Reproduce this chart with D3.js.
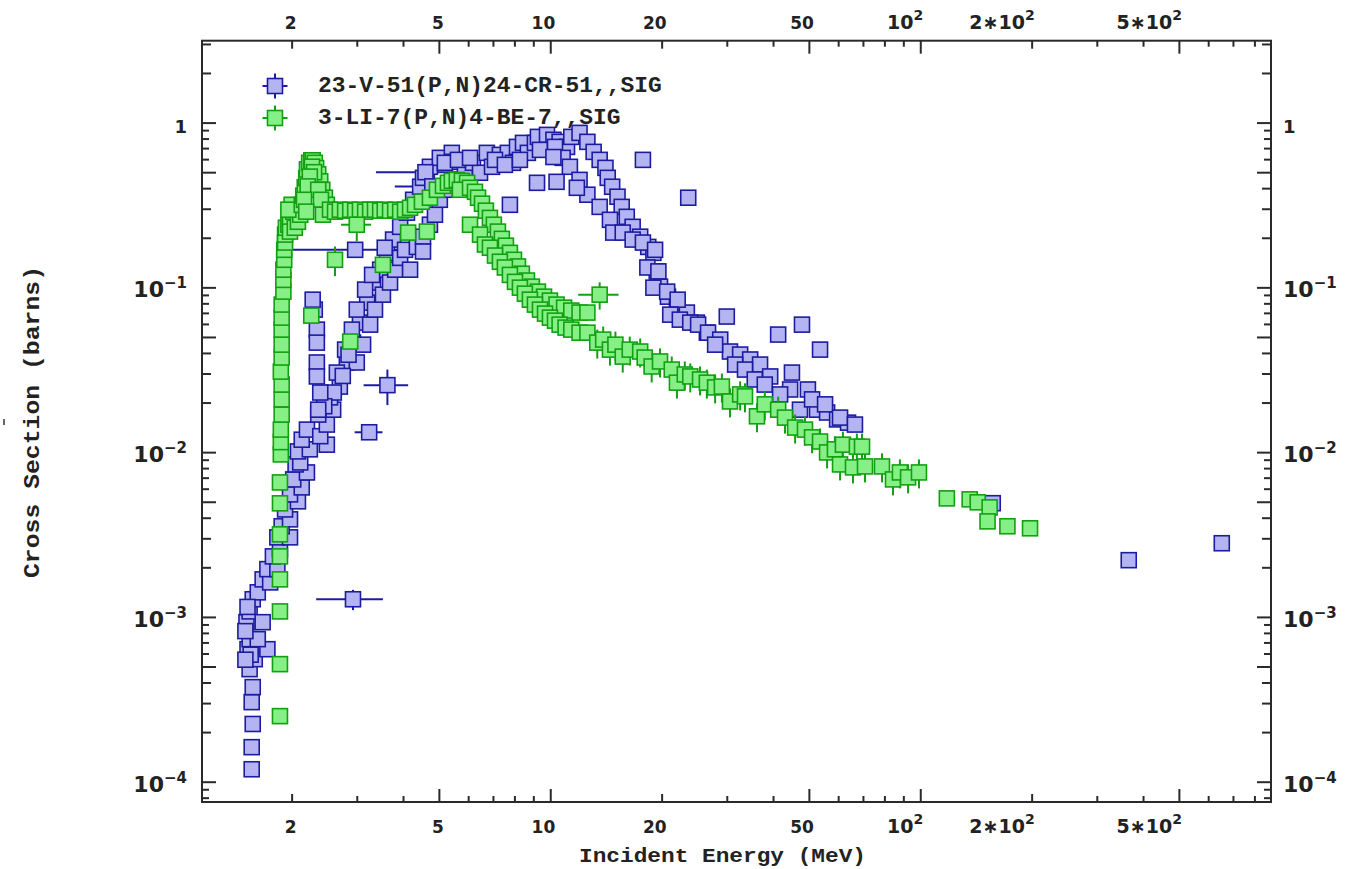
<!DOCTYPE html>
<html>
<head>
<meta charset="utf-8">
<script src="https://cdn.jsdelivr.net/npm/d3@7"></script>
<style>
body { margin:0; background:#fff; }
svg { display:block; }
.lbl { font-family:"DejaVu Sans", sans-serif; font-weight:bold; fill:#222; }
.ttl { font-family:"Liberation Mono", monospace; font-weight:bold; fill:#222; }
</style>
</head>
<body>
<svg id="chart" width="1365" height="869"></svg>
<script>
// ---- data: [energy MeV, sigma barns] ; err entries: [E, sigma, dE, dSigma] ----
var vThresh = [[1.56,1.19e-4],[1.56,1.62e-4],[1.57,2.24e-4],[1.56,3.04e-4],[1.57,3.75e-4],[1.54,4.82e-4],
  [1.59,5.54e-4],[1.52,6.37e-4],[1.54,7.33e-4],[1.51,9.29e-4],[1.54,1.08e-3],[1.57,1.28e-3],[1.62,1.41e-3],
  [1.67,9.29e-4],[1.72,6.37e-4],[1.62,7.33e-4],[1.50,8.2e-4],[1.52,1.15e-3],[1.55,5.9e-4],[1.50,5.5e-4]]
var vRise = [[1.67,1.69e-3],[1.75,1.62e-3],[1.72,1.95e-3],[1.83,1.95e-3],[1.78,2.33e-3],[1.86,2.57e-3],
  [1.83,3.04e-3],[1.98,3.04e-3],[1.88,3.55e-3],[1.98,3.91e-3],[1.92,4.49e-3],[2.08,5.03e-3],[1.98,5.54e-3],
  [2.13,6.11e-3],[2.02,6.83e-3],[2.20,7.53e-3],[2.05,8.42e-3],[2.11,8.66e-3],[2.08,1.01e-2],[2.24,1.04e-2],
  [2.13,1.19e-2],[2.49,1.11e-2],[2.20,1.37e-2],[2.39,1.25e-2],[2.49,1.47e-2],[2.59,1.81e-2],[2.36,1.69e-2],
  [2.70,2.50e-2],[2.54,2.15e-2],[2.82,3.50e-2],[2.65,3.04e-2],[2.93,4.62e-2],[2.79,4.19e-2],[3.06,6.11e-2],
  [2.91,5.54e-2],[3.20,8.08e-2],[3.00,7.33e-2],[3.32,0.107],[3.16,9.69e-2],[3.47,0.128],[3.30,0.119],
  [3.62,0.162],[3.76,0.195],[3.57,0.174],[3.93,0.233],[4.10,0.284],[4.26,0.340],[4.45,0.408],[4.64,0.469]]
var vRise2 = [[3.00,3.50e-2],[3.12,4.49e-2],[3.26,5.94e-2],[3.36,7.33e-2],[3.53,9.03e-2],[3.69,0.107],
  [3.81,0.128],[3.93,0.151],[4.05,0.169],[4.18,0.128],[4.36,0.176],[4.53,0.203],[4.73,0.240],[4.88,0.276],
  [4.53,0.165],[5.03,0.340],[5.19,0.391],[2.60,2.3e-2],[2.75,2.9e-2],[2.85,3.9e-2],[2.45,1.9e-2]]
var vColumn = [[2.31,7.33e-2],[2.34,5.54e-2],[2.34,4.62e-2],[2.34,3.50e-2],[2.34,2.88e-2],[2.39,2.30e-2],
  [2.36,1.81e-2],[2.28,8.42e-2]]
var vHump = [[4.53,0.462],[4.73,0.539],[5.03,0.611],[5.42,0.655],[5.46,0.578],[5.88,0.517],[6.18,0.570],
  [6.46,0.496],[6.74,0.655],[6.96,0.539],[7.31,0.637],[7.68,0.655],[7.93,0.570],[8.13,0.712],[8.44,0.753],
  [8.70,0.655],[9.09,0.753],[9.26,0.819],[9.80,0.842],[10.2,0.786],[10.6,0.764],[11.1,0.712],[11.4,0.819],
  [12.0,0.866],[12.6,0.764],[13.1,0.664],[13.6,0.594],[14.1,0.531],[14.3,0.462],[14.7,0.408],[15.2,0.355],
  [15.6,0.308],[16.1,0.268],[16.7,0.233],[17.5,0.203],[18.4,0.176],[19.0,0.162],[19.4,0.125],[19.8,0.101],
  [20.8,0.0878],[22.0,0.0808],[23.4,0.0703],[24.9,0.0611],[26.5,0.0531],[5.19,0.570],[5.63,0.594],
  [6.07,0.611],[7.09,0.594],[7.54,0.554],[8.28,0.594],[9.38,0.683],[10.3,0.712],[10.8,0.611]]
var vTail = [[10.2,0.618],[11.3,0.539],[12.0,0.449],[12.6,0.365],[13.6,0.308],[14.5,0.257],[14.8,0.215],
  [15.7,0.215],[16.7,0.195],[17.8,0.187],[19.2,0.169],[18.3,0.132],[19.6,0.125],[19.0,0.0996],[20.7,0.0942],
  [22.1,0.0842],[21.1,0.0683],[22.4,0.0637],[23.9,0.0611],[25.1,0.0594],[26.7,0.0531],[28.8,0.0482],
  [30.6,0.0408],[32.6,0.0391],[34.7,0.0365],[36.9,0.0340],[39.3,0.0288],[45.0,0.0304],[44.5,0.0240],
  [49.7,0.0240],[47.3,0.0181],[52.6,0.0181],[56.0,0.0174],[59.6,0.0158],[63.8,0.0151],[27.9,0.0449],
  [31.6,0.0340],[33.6,0.0317],[35.7,0.0276],[38.0,0.0257],[41.8,0.0224],[51.0,0.0209],[55.3,0.0195],
  [60.7,0.0162],[66.6,0.0147]]
var vScatter = [[17.8,0.594],[23.6,0.350],[9.21,0.431],[10.4,0.437],[11.8,0.402],[30.0,0.0665],[41.3,0.0517],
  [47.9,0.0594],[53.6,0.0419],[157,4.9e-3],[366,2.21e-3],[653,2.80e-3]]
var vErr = [[3.63,0.0255,0.5,0.0062],[3.24,0.0132,0.28,0],[2.93,0.00128,0.6,0.00018],[2.97,0.169,1.01,0],
  [4.60,0.50,1.22,0],[4.80,0.41,1.0,0],[7.78,0.317,0.35,0]]

var liThresh = [[1.86,2.50e-4],[1.86,5.17e-4],[1.86,1.08e-3],[1.86,1.69e-3],[1.86,2.33e-3],[1.86,3.17e-3],
  [1.86,4.89e-3],[1.86,6.55e-3],[1.87,9.69e-3],[1.87,1.15e-2],[1.87,1.37e-2],[1.88,1.69e-2],[1.88,2.09e-2],
  [1.88,2.57e-2],[1.87,3.08e-2],[1.88,3.75e-2],[1.88,4.49e-2],[1.88,5.54e-2],[1.88,6.55e-2],[1.88,7.86e-2],
  [1.90,9.42e-2],[1.90,0.111],[1.90,0.128],[1.91,0.147],[1.91,0.169],[1.92,0.187],[1.92,0.209],[1.93,0.230]]
var liPeak = [[1.96,0.240],[1.98,0.264],[2.02,0.288],[2.05,0.304],[1.98,0.218],[2.04,0.230],[2.08,0.250],
  [2.11,0.276],[2.00,0.317],[1.96,0.296],[2.13,0.317],[2.15,0.360],[2.17,0.405],[2.19,0.460],[2.20,0.520],
  [2.23,0.570],[2.26,0.590],[2.28,0.590],[2.31,0.570],[2.33,0.530],[2.36,0.485],[2.39,0.440],[2.42,0.391],
  [2.46,0.350],[2.49,0.317],[2.27,0.540],[2.30,0.500],[2.24,0.470],[2.21,0.410],[2.36,0.391],[2.40,0.340],
  [2.16,0.340],[2.19,0.288],[2.43,0.276]]
var liPlateau = [[2.54,0.296],[2.62,0.288],[2.70,0.296],[2.79,0.292],[2.88,0.296],[2.97,0.292],[3.06,0.296],
  [3.16,0.288],[3.26,0.296],[3.36,0.296],[3.47,0.292],[3.57,0.296],[3.69,0.292],[3.81,0.296],[3.93,0.288],
  [4.05,0.296],[4.18,0.304],[4.31,0.317]]
var liFall = [[4.50,0.331],[4.73,0.350],[4.94,0.391],[5.13,0.413],[5.29,0.431],[5.42,0.443],[5.59,0.449],
  [5.77,0.443],[5.96,0.431],[5.70,0.391],[6.07,0.402],[6.26,0.380],[6.38,0.350],[6.54,0.322],[6.70,0.292],
  [6.87,0.264],[7.04,0.240],[7.22,0.218],[7.40,0.197],[7.59,0.179],[7.78,0.162],[7.98,0.147],[8.18,0.134],
  [8.38,0.121],[8.65,0.110],[8.92,0.101],[9.26,0.0942],[9.62,0.0878],[9.98,0.0831],[10.4,0.0786],
  [10.9,0.0753],[11.4,0.0723],[12.0,0.0703],[12.6,0.0703],
  [6.07,0.240],[6.46,0.209],[6.66,0.182],[6.87,0.174],[7.09,0.156],[7.31,0.143],[7.54,0.132],[7.78,0.119],
  [8.03,0.108],[8.28,0.0996],[8.54,0.0916],[8.81,0.0842],[9.09,0.0786],[9.38,0.0733],[9.68,0.0693],
  [9.98,0.0655],[10.3,0.0628],[10.6,0.0594],[11.0,0.0570],[11.4,0.0554],[12.0,0.0531],[12.6,0.0531]]
var liTail = [[13.4,0.0462],[13.9,0.0482],[14.5,0.0419],[15.0,0.0449],[15.7,0.0380],[16.4,0.0419],
  [17.5,0.0408],[18.0,0.0375],[18.8,0.0331],[19.8,0.0355],[21.3,0.0317],[22.0,0.0264],[23.1,0.0296],
  [23.9,0.0288],[25.4,0.0276],[26.5,0.0264],[27.9,0.0247],[29.1,0.0250],[30.6,0.0203],[32.6,0.0224],
  [33.6,0.0218],[36.2,0.0165],[38.0,0.0195],[41.3,0.0181],[43.1,0.0162],[45.9,0.0141],[48.8,0.0137],
  [51.0,0.0123],[53.6,0.0116],[56.0,0.00996],[58.8,0.0104],[61.8,0.0111],[67.4,0.0108],[69.6,0.0108],
  [60.7,0.00842],[65.8,0.00808],[70.9,0.00819],[78.8,0.00819],[84.4,0.00683],[88.1,0.00753],[92.7,0.00703],
  [99.2,0.00753]]
var liTailErr = 0.2   // relative sigma error seen on the tail points
var liFar = [[118,0.00524],[136,0.00517],[143,0.00496],[154,0.00462],[152,0.00380],[172,0.00355],[198,0.00345]]
var liScatter = [[2.26,0.0674],[2.88,0.0469],[3.53,0.137],[4.13,0.215],[4.64,0.218]]
var liErr = [[3.00,0.240,0.28,0.05],[2.62,0.147,0.05,0.03],[13.6,0.0903,1.7,0.017]]

var legendNames = ["23-V-51(P,N)24-CR-51,,SIG", "3-LI-7(P,N)4-BE-7,,SIG"]
var xTickVals = [2,5,10,20,50,100,200,500]
var xTickText = ["2","5","10","20","50","10^2","2\u221710^2","5\u221710^2"]
var yTickVals = [1,0.1,0.01,0.001,0.0001]
var yTickText = ["1","10^\u22121","10^\u22122","10^\u22123","10^\u22124"]

// ---- layout ----
var plotL = 202, plotR = 1271, plotT = 40.7, plotB = 802
var xScale = d3.scaleLog().domain([1.145, 887]).range([plotL, plotR])
var yScale = d3.scaleLog().domain([7.53e-5, 3.14]).range([plotB, plotT])
var svg = d3.select("#chart")

// tick values by size
var xLong = [], xMid = [], xShort = [], yLong = [], yMid = [], yShort = []
for (var n = 0; n <= 2; n++) for (var m = 1; m <= 9; m++) {
  var v = m * Math.pow(10, n)
  if (v < 1.145 || v > 887) continue
  if (m == 1 || m == 5) xLong.push(v); else if (m == 2) xMid.push(v); else xShort.push(v)
}
for (var n = -5; n <= 0; n++) for (var m = 1; m <= 9; m++) {
  var v = m * Math.pow(10, n)
  if (v < 7.53e-5 || v > 3.14) continue
  if (m == 1 || m == 5) yLong.push(v); else if (m <= 4) yMid.push(v); else yShort.push(v)
}

function tickGroup(axis, tr) {
  var g = svg.append("g").attr("transform", tr).attr("color", "#2a2a2a").call(axis)
  g.select(".domain").remove()
  g.selectAll("line").attr("stroke-width", 2)
}
;[[xLong,13],[xMid,8],[xShort,6]].forEach(function(t) {
  tickGroup(d3.axisBottom(xScale).tickValues(t[0]).tickSize(-t[1]).tickFormat(""), "translate(0," + plotB + ")")
  tickGroup(d3.axisTop(xScale).tickValues(t[0]).tickSize(-t[1]).tickFormat(""), "translate(0," + plotT + ")")
})
;[[yLong,14],[yMid,9],[yShort,7]].forEach(function(t) {
  tickGroup(d3.axisLeft(yScale).tickValues(t[0]).tickSize(-t[1]).tickFormat(""), "translate(" + plotL + ",0)")
  tickGroup(d3.axisRight(yScale).tickValues(t[0]).tickSize(-t[1]).tickFormat(""), "translate(" + plotR + ",0)")
})

// frame
svg.append("rect").attr("x", plotL).attr("y", plotT).attr("width", plotR - plotL).attr("height", plotB - plotT)
  .attr("fill", "none").attr("stroke", "#2a2a2a").attr("stroke-width", 2)

// tick labels with superscripts
function label(x, y, txt, anchor, size, supSize) {
  var parts = txt.split("^")
  var t = svg.append("text").attr("class", "lbl").attr("x", x).attr("y", y)
    .attr("text-anchor", anchor).style("font-size", size + "px")
  t.append("tspan").text(parts[0])
  if (parts.length > 1) t.append("tspan").attr("dy", -9).style("font-size", supSize + "px").text(parts[1])
}
xTickVals.forEach(function(v, i) {
  var sup = xTickText[i].indexOf("^") >= 0
  var sz = sup ? 19 : 17, dx = sup ? 3 : 5
  label(xScale(v) + dx, 29, xTickText[i], "end", sz, 14)
  label(xScale(v) + dx, 833, xTickText[i], "end", sz, 14)
})
yTickVals.forEach(function(v, i) {
  var sz = yTickText[i].indexOf("^") >= 0 ? 22 : 18
  label(plotL - 15, yScale(v) + 10, yTickText[i], "end", sz, 15)
  label(plotR + 12, yScale(v) + 10, yTickText[i], "start", sz, 15)
})

// ---- data marks ----
function drawSeries(groups, errs, fill, stroke, relErrGroups) {
  var g = svg.append("g")
  var bars = []
  errs.forEach(function(d) { bars.push(d) })
  relErrGroups.forEach(function(r) { r[0].forEach(function(d) { bars.push([d[0], d[1], 0, d[1] * r[1]]) }) })
  bars.forEach(function(d) {
    if (d[2] > 0) g.append("line").attr("x1", xScale(d[0] - d[2])).attr("x2", xScale(d[0] + d[2]))
      .attr("y1", yScale(d[1])).attr("y2", yScale(d[1])).attr("stroke", stroke).attr("stroke-width", 2)
    if (d[3] > 0) g.append("line").attr("x1", xScale(d[0])).attr("x2", xScale(d[0]))
      .attr("y1", yScale(d[1] - d[3])).attr("y2", yScale(d[1] + d[3])).attr("stroke", stroke).attr("stroke-width", 2)
  })
  var pts = [].concat.apply([], groups).concat(errs)
  g.selectAll("rect").data(pts).join("rect")
    .attr("x", function(d) { return xScale(d[0]) - 7.5 })
    .attr("y", function(d) { return yScale(d[1]) - 7.5 })
    .attr("width", 15).attr("height", 15)
    .attr("fill", fill).attr("stroke", stroke).attr("stroke-width", 1.6)
}
drawSeries([vThresh, vRise, vRise2, vColumn, vHump, vTail, vScatter], vErr, "#b4b4f2", "#1c1ca0", [])
drawSeries([liThresh, liPeak, liPlateau, liFall, liTail, liFar, liScatter], liErr, "#86ef86", "#12a012", [[liTail, liTailErr]])

// ---- legend ----
var legColors = [["#b4b4f2", "#1c1ca0"], ["#86ef86", "#12a012"]]
legendNames.forEach(function(name, i) {
  var cy = 86 + i * 32, cx = 275
  var g = svg.append("g")
  g.append("line").attr("x1", cx - 12.5).attr("x2", cx + 12.5).attr("y1", cy).attr("y2", cy).attr("stroke", legColors[i][1]).attr("stroke-width", 2)
  g.append("line").attr("x1", cx).attr("x2", cx).attr("y1", cy - 12.5).attr("y2", cy + 12.5).attr("stroke", legColors[i][1]).attr("stroke-width", 2)
  g.append("rect").attr("x", cx - 7.5).attr("y", cy - 7.5).attr("width", 15).attr("height", 15)
    .attr("fill", legColors[i][0]).attr("stroke", legColors[i][1]).attr("stroke-width", 1.6)
  g.append("text").attr("class", "ttl").attr("x", 318).attr("y", cy + 6)
    .attr("textLength", name.length * 13.75).attr("lengthAdjust", "spacingAndGlyphs")
    .style("font-size", "22px").text(name)
})

// ---- axis titles ----
svg.append("text").attr("class", "ttl").attr("x", 579).attr("y", 862)
  .attr("textLength", 287).attr("lengthAdjust", "spacingAndGlyphs").style("font-size", "21px")
  .text("Incident Energy (MeV)")
svg.append("text").attr("class", "ttl").attr("transform", "translate(39,578) rotate(-90)")
  .attr("x", 0).attr("y", 0)
  .attr("textLength", 312).attr("lengthAdjust", "spacingAndGlyphs").style("font-size", "22px")
  .text("Cross Section (barns)")
svg.append("line").attr("x1", 4).attr("x2", 4).attr("y1", 419).attr("y2", 425).attr("stroke", "#333").attr("stroke-width", 1.5)
</script>
</body>
</html>
